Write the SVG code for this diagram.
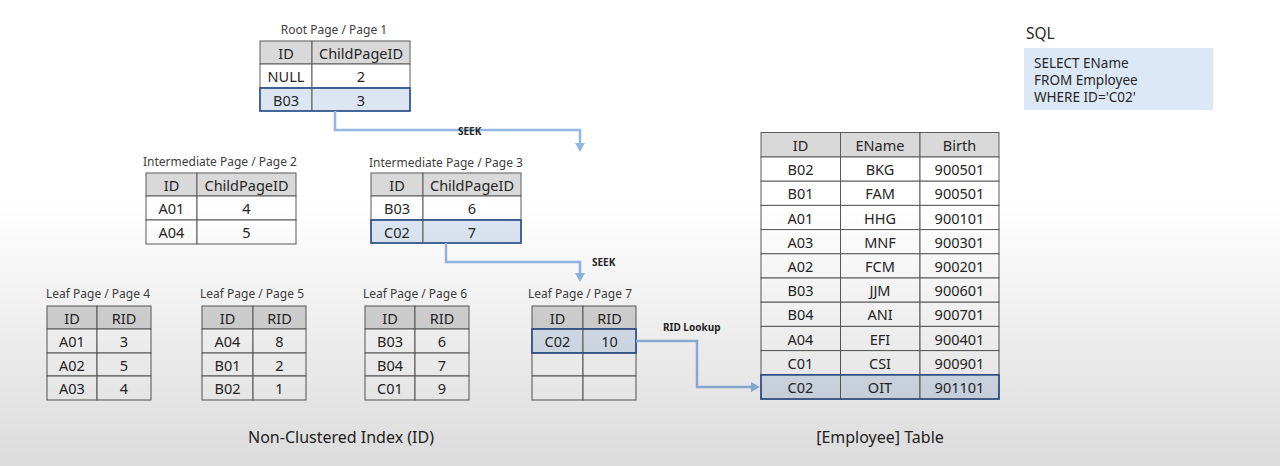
<svg xmlns="http://www.w3.org/2000/svg" width="1280" height="466" viewBox="0 0 1280 466">
<style>
.t{font-family:"Noto Sans","Open Sans",sans-serif;font-size:14.5px;fill:#262626;text-anchor:middle;dominant-baseline:central}
.lbl{font-family:"Noto Sans","Open Sans",sans-serif;font-size:12px;fill:#404040;text-anchor:middle}
.cap{font-family:"Noto Sans","Open Sans",sans-serif;font-size:16px;fill:#262626;text-anchor:middle}
.cl{font-family:"Noto Sans","Open Sans",sans-serif;font-size:10px;font-weight:bold;fill:#262626}
.sql{font-family:"Noto Sans","Open Sans",sans-serif;font-size:13.5px;fill:#262626}
.hdr{fill:#d9d9d9;stroke:#5a5a5a;stroke-width:1}
.cell{fill:#ffffff;stroke:#5a5a5a;stroke-width:1}
.hlc{fill:#dce6f2;stroke:#5a5a5a;stroke-width:1}
.hl{fill:none;stroke:#2f5597;stroke-width:1.6}
.conn{fill:none;stroke:#92b8e2;stroke-width:2.5}
</style>
<defs>
<marker id="ah" markerWidth="10" markerHeight="10" refX="0" refY="5" orient="auto" markerUnits="userSpaceOnUse">
<path d="M0,0 L9,5 L0,10 Z" fill="#92b8e2"/>
</marker>
<linearGradient id="shade" x1="0" y1="0" x2="0" y2="1">
<stop offset="0" stop-color="#000" stop-opacity="0"/>
<stop offset="1" stop-color="#000" stop-opacity="0.14"/>
</linearGradient>
</defs>
<rect width="1280" height="466" fill="#ffffff"/>

<!-- Root page -->
<g id="root">
<text class="lbl" x="334" y="34">Root Page / Page 1</text>
<rect class="hdr" x="260" y="41" width="52" height="23"/>
<rect class="hdr" x="312" y="41" width="98" height="23"/>
<rect class="cell" x="260" y="64" width="52" height="24"/>
<rect class="cell" x="312" y="64" width="98" height="24"/>
<rect class="hlc" x="260" y="88" width="52" height="23"/>
<rect class="hlc" x="312" y="88" width="98" height="23"/>
<rect class="hl" x="260" y="88" width="150" height="23"/>
<text class="t" x="286" y="53">ID</text><text class="t" x="361" y="53">ChildPageID</text>
<text class="t" x="286" y="76">NULL</text><text class="t" x="361" y="76">2</text>
<text class="t" x="286" y="99.5">B03</text><text class="t" x="361" y="99.5">3</text>
</g>

<!-- Intermediate page 2 -->
<g id="page2">
<text class="lbl" x="220" y="166">Intermediate Page / Page 2</text>
<rect class="hdr" x="146" y="173" width="51" height="23"/>
<rect class="hdr" x="197" y="173" width="99" height="23"/>
<rect class="cell" x="146" y="196" width="51" height="24"/>
<rect class="cell" x="197" y="196" width="99" height="24"/>
<rect class="cell" x="146" y="220" width="51" height="24"/>
<rect class="cell" x="197" y="220" width="99" height="24"/>
<text class="t" x="171.5" y="185">ID</text><text class="t" x="246.5" y="185">ChildPageID</text>
<text class="t" x="171.5" y="208">A01</text><text class="t" x="246.5" y="208">4</text>
<text class="t" x="171.5" y="232">A04</text><text class="t" x="246.5" y="232">5</text>
</g>

<!-- Intermediate page 3 -->
<g id="page3">
<text class="lbl" x="446" y="167">Intermediate Page / Page 3</text>
<rect class="hdr" x="371" y="173" width="52" height="23"/>
<rect class="hdr" x="423" y="173" width="98" height="23"/>
<rect class="cell" x="371" y="196" width="52" height="24"/>
<rect class="cell" x="423" y="196" width="98" height="24"/>
<rect class="hlc" x="371" y="220" width="52" height="23"/>
<rect class="hlc" x="423" y="220" width="98" height="23"/>
<rect class="hl" x="371" y="220" width="150" height="23"/>
<text class="t" x="397" y="185">ID</text><text class="t" x="472" y="185">ChildPageID</text>
<text class="t" x="397" y="208">B03</text><text class="t" x="472" y="208">6</text>
<text class="t" x="397" y="231.5">C02</text><text class="t" x="472" y="231.5">7</text>
</g>

<!-- Leaf pages -->
<g id="page4">
<text class="lbl" x="98" y="298">Leaf Page / Page 4</text>
<rect class="hdr" x="47" y="306" width="50" height="23"/><rect class="hdr" x="97" y="306" width="54" height="23"/>
<rect class="cell" x="47" y="329" width="50" height="24"/><rect class="cell" x="97" y="329" width="54" height="24"/>
<rect class="cell" x="47" y="353" width="50" height="23"/><rect class="cell" x="97" y="353" width="54" height="23"/>
<rect class="cell" x="47" y="376" width="50" height="24"/><rect class="cell" x="97" y="376" width="54" height="24"/>
<text class="t" x="72" y="318">ID</text><text class="t" x="124" y="318">RID</text>
<text class="t" x="72" y="341">A01</text><text class="t" x="124" y="341">3</text>
<text class="t" x="72" y="365">A02</text><text class="t" x="124" y="365">5</text>
<text class="t" x="72" y="388">A03</text><text class="t" x="124" y="388">4</text>
</g>
<g id="page5">
<text class="lbl" x="252" y="298">Leaf Page / Page 5</text>
<rect class="hdr" x="202" y="306" width="51" height="23"/><rect class="hdr" x="253" y="306" width="53" height="23"/>
<rect class="cell" x="202" y="329" width="51" height="24"/><rect class="cell" x="253" y="329" width="53" height="24"/>
<rect class="cell" x="202" y="353" width="51" height="23"/><rect class="cell" x="253" y="353" width="53" height="23"/>
<rect class="cell" x="202" y="376" width="51" height="24"/><rect class="cell" x="253" y="376" width="53" height="24"/>
<text class="t" x="227.5" y="318">ID</text><text class="t" x="279.5" y="318">RID</text>
<text class="t" x="227.5" y="341">A04</text><text class="t" x="279.5" y="341">8</text>
<text class="t" x="227.5" y="365">B01</text><text class="t" x="279.5" y="365">2</text>
<text class="t" x="227.5" y="388">B02</text><text class="t" x="279.5" y="388">1</text>
</g>
<g id="page6">
<text class="lbl" x="415" y="298">Leaf Page / Page 6</text>
<rect class="hdr" x="365" y="306" width="50" height="23"/><rect class="hdr" x="415" y="306" width="54" height="23"/>
<rect class="cell" x="365" y="329" width="50" height="24"/><rect class="cell" x="415" y="329" width="54" height="24"/>
<rect class="cell" x="365" y="353" width="50" height="23"/><rect class="cell" x="415" y="353" width="54" height="23"/>
<rect class="cell" x="365" y="376" width="50" height="24"/><rect class="cell" x="415" y="376" width="54" height="24"/>
<text class="t" x="390" y="318">ID</text><text class="t" x="442" y="318">RID</text>
<text class="t" x="390" y="341">B03</text><text class="t" x="442" y="341">6</text>
<text class="t" x="390" y="365">B04</text><text class="t" x="442" y="365">7</text>
<text class="t" x="390" y="388">C01</text><text class="t" x="442" y="388">9</text>
</g>
<g id="page7">
<text class="lbl" x="580" y="298">Leaf Page / Page 7</text>
<rect class="hdr" x="532" y="306" width="51" height="23"/><rect class="hdr" x="583" y="306" width="53" height="23"/>
<rect class="hlc" x="532" y="329" width="51" height="24"/><rect class="hlc" x="583" y="329" width="53" height="24"/>
<rect class="cell" x="532" y="353" width="51" height="23"/><rect class="cell" x="583" y="353" width="53" height="23"/>
<rect class="cell" x="532" y="376" width="51" height="24"/><rect class="cell" x="583" y="376" width="53" height="24"/>
<rect class="hl" x="532" y="329" width="104" height="24"/>
<text class="t" x="557.5" y="318">ID</text><text class="t" x="609.5" y="318">RID</text>
<text class="t" x="557.5" y="341">C02</text><text class="t" x="609.5" y="341">10</text>
</g>

<!-- Employee table -->
<g id="employee">
<rect class="hdr" x="761" y="132.5" width="79.5" height="24.5"/><rect class="hdr" x="840.5" y="132.5" width="79.5" height="24.5"/><rect class="hdr" x="920" y="132.5" width="79" height="24.5"/>
<g class="cell">
<rect x="761" y="157" width="79.5" height="24.2"/><rect x="840.5" y="157" width="79.5" height="24.2"/><rect x="920" y="157" width="79" height="24.2"/>
<rect x="761" y="181.2" width="79.5" height="24.2"/><rect x="840.5" y="181.2" width="79.5" height="24.2"/><rect x="920" y="181.2" width="79" height="24.2"/>
<rect x="761" y="205.4" width="79.5" height="24.2"/><rect x="840.5" y="205.4" width="79.5" height="24.2"/><rect x="920" y="205.4" width="79" height="24.2"/>
<rect x="761" y="229.6" width="79.5" height="24.2"/><rect x="840.5" y="229.6" width="79.5" height="24.2"/><rect x="920" y="229.6" width="79" height="24.2"/>
<rect x="761" y="253.8" width="79.5" height="24.2"/><rect x="840.5" y="253.8" width="79.5" height="24.2"/><rect x="920" y="253.8" width="79" height="24.2"/>
<rect x="761" y="278" width="79.5" height="24.2"/><rect x="840.5" y="278" width="79.5" height="24.2"/><rect x="920" y="278" width="79" height="24.2"/>
<rect x="761" y="302.2" width="79.5" height="24.2"/><rect x="840.5" y="302.2" width="79.5" height="24.2"/><rect x="920" y="302.2" width="79" height="24.2"/>
<rect x="761" y="326.4" width="79.5" height="24.2"/><rect x="840.5" y="326.4" width="79.5" height="24.2"/><rect x="920" y="326.4" width="79" height="24.2"/>
<rect x="761" y="350.6" width="79.5" height="24.2"/><rect x="840.5" y="350.6" width="79.5" height="24.2"/><rect x="920" y="350.6" width="79" height="24.2"/>
</g>
<rect class="hlc" x="761" y="374.8" width="79.5" height="24.2"/><rect class="hlc" x="840.5" y="374.8" width="79.5" height="24.2"/><rect class="hlc" x="920" y="374.8" width="79" height="24.2"/>
<rect class="hl" x="761" y="374.8" width="238" height="24.2"/>
<text class="t" x="800.5" y="145">ID</text><text class="t" x="880" y="145">EName</text><text class="t" x="959.5" y="145">Birth</text>
<text class="t" x="800.5" y="169.1">B02</text><text class="t" x="880" y="169.1">BKG</text><text class="t" x="959.5" y="169.1">900501</text>
<text class="t" x="800.5" y="193.3">B01</text><text class="t" x="880" y="193.3">FAM</text><text class="t" x="959.5" y="193.3">900501</text>
<text class="t" x="800.5" y="217.5">A01</text><text class="t" x="880" y="217.5">HHG</text><text class="t" x="959.5" y="217.5">900101</text>
<text class="t" x="800.5" y="241.7">A03</text><text class="t" x="880" y="241.7">MNF</text><text class="t" x="959.5" y="241.7">900301</text>
<text class="t" x="800.5" y="265.9">A02</text><text class="t" x="880" y="265.9">FCM</text><text class="t" x="959.5" y="265.9">900201</text>
<text class="t" x="800.5" y="290.1">B03</text><text class="t" x="880" y="290.1">JJM</text><text class="t" x="959.5" y="290.1">900601</text>
<text class="t" x="800.5" y="314.3">B04</text><text class="t" x="880" y="314.3">ANI</text><text class="t" x="959.5" y="314.3">900701</text>
<text class="t" x="800.5" y="338.5">A04</text><text class="t" x="880" y="338.5">EFI</text><text class="t" x="959.5" y="338.5">900401</text>
<text class="t" x="800.5" y="362.7">C01</text><text class="t" x="880" y="362.7">CSI</text><text class="t" x="959.5" y="362.7">900901</text>
<text class="t" x="800.5" y="386.9">C02</text><text class="t" x="880" y="386.9">OIT</text><text class="t" x="959.5" y="386.9">901101</text>
</g>

<!-- SQL -->
<g id="sql">
<text class="cap" x="1026" y="39" style="text-anchor:start;font-size:15.5px">SQL</text>
<rect x="1024" y="48" width="189" height="62" fill="#dce8f5"/>
<text class="sql" x="1034" y="68">SELECT EName</text>
<text class="sql" x="1034" y="85">FROM Employee</text>
<text class="sql" x="1034" y="102">WHERE ID='C02'</text>
</g>

<!-- Connectors -->
<g id="connectors">
<polyline class="conn" points="335,111 335,130 580,130 580,143" marker-end="url(#ah)"/>
<polyline class="conn" points="446,243 446,262 580,262 580,273" marker-end="url(#ah)"/>
<polyline class="conn" points="636,341 697,341 697,387 751,387" marker-end="url(#ah)"/>
<text class="cl" x="458" y="135">SEEK</text>
<text class="cl" x="592" y="266">SEEK</text>
<text class="cl" x="663" y="331">RID Lookup</text>
</g>

<text class="cap" x="341" y="443">Non-Clustered Index (ID)</text>
<text class="cap" x="880" y="443">[Employee] Table</text>

<rect x="0" y="200" width="1280" height="266" fill="url(#shade)"/>
</svg>
